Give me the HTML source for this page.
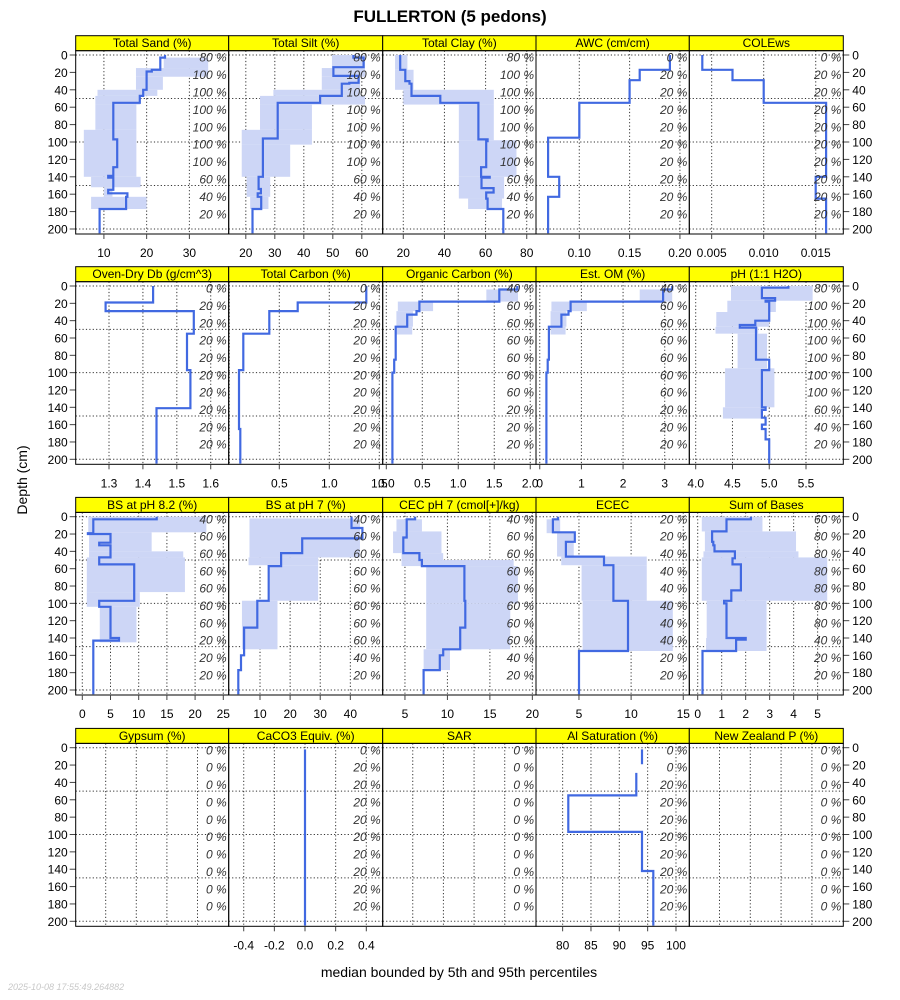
<!DOCTYPE html>
<html><head><meta charset="utf-8"><style>
html,body{margin:0;padding:0;background:#fff;}
svg{display:block;font-family:"Liberation Sans",sans-serif;}
</style></head><body>
<svg id="chart" width="900" height="1000" viewBox="0 0 900 1000" xmlns="http://www.w3.org/2000/svg">
<text x="450" y="22" text-anchor="middle" font-size="17" font-weight="bold">FULLERTON (5 pedons)</text>
<text transform="translate(27,480) rotate(-90)" text-anchor="middle" font-size="14">Depth (cm)</text>
<text x="459" y="977" text-anchor="middle" font-size="14">median bounded by 5th and 95th percentiles</text>
<text x="8" y="990" font-size="9" font-style="italic" fill="#c8c8c8">2025-10-08 17:55:49.264882</text>
<g id="panels"></g>
</svg>
<script>
// ---- layout rows (depth 0 / depth 200 pixel positions) ----
const rowY0 = [55, 286, 516.7, 747.7];
const rowY200 = [229, 459.3, 690, 921.3];
const colX = [75.7, 228.7, 382.7, 536, 689.3, 843.3];
const depthTicks = [0,20,40,60,80,100,120,140,160,180,200];
const depthGrid = [0,50,100,150,200];

// ---- panel titles ----
const titles = ["Total Sand (%)","Total Silt (%)","Total Clay (%)","AWC (cm/cm)","COLEws",
"Oven-Dry Db (g/cm^3)","Total Carbon (%)","Organic Carbon (%)","Est. OM (%)","pH (1:1 H2O)",
"BS at pH 8.2 (%)","BS at pH 7 (%)","CEC pH 7 (cmol[+]/kg)","ECEC","Sum of Bases",
"Gypsum (%)","CaCO3 Equiv. (%)","SAR","Al Saturation (%)","New Zealand P (%)"];

// ---- x domains ----
const domains = [[3.4,39.2],[14.1,67.2],[10,84.5],[0.057,0.2093],[0.00285,0.01765],
[1.2018,1.653],[-0.006,1.534],[-0.05,2.08],[-0.09,3.59],[3.913,6.007],
[-1.17,25.96],[-0.4,50.75],[2.38,20.43],[0.88,15.58],[-0.35,6.07],
[-0.596,0.404],[-0.498,0.507],[-0.596,0.404],[75.3,102.35],[-0.596,0.404]];

// ---- x ticks and labels ----
const ticks = [[10,20,30],[20,30,40,50,60],[20,40,60,80],[0.10,0.15,0.20],[0.005,0.010,0.015],
[1.3,1.4,1.5,1.6],[0,0.5,1.0,1.5],[0,0.5,1.0,1.5,2.0],[0,1,2,3],[4.0,4.5,5.0,5.5],
[0,5,10,15,20,25],[10,20,30,40],[5,10,15,20],[5,10,15],[0,1,2,3,4,5],
[-0.4,-0.2,0,0.2],[-0.4,-0.2,0,0.2,0.4],[-0.4,-0.2,0,0.2],[80,85,90,95,100],[-0.4,-0.2,0,0.2]];
const tickLabels = [["10","20","30"],["20","30","40","50","60"],["20","40","60","80"],["0.10","0.15","0.20"],["0.005","0.010","0.015"],
["1.3","1.4","1.5","1.6"],["","0.5","1.0","1.5"],["0.0","0.5","1.0","1.5","2.0"],["0","1","2","3"],["4.0","4.5","5.0","5.5"],
["0","5","10","15","20","25"],["10","20","30","40"],["5","10","15","20"],["5","10","15"],["0","1","2","3","4","5"],
["","","",""],["-0.4","-0.2","0.0","0.2","0.4"],["","","",""],["80","85","90","95","100"],["","","",""]];

// ---- percent of pedons with data ----
const pctLabels = [
[80,100,100,100,100,100,100,60,40,20],[80,100,100,100,100,100,100,60,40,20],[80,100,100,100,100,100,100,60,40,20],[0,20,20,20,20,20,20,20,20,20],[0,20,20,20,20,20,20,20,20,20],
[0,20,20,20,20,20,20,20,20,20],[0,20,20,20,20,20,20,20,20,20],[40,60,60,60,60,60,60,20,20,20],[40,60,60,60,60,60,60,20,20,20],[80,100,100,100,100,100,100,60,40,20],
[40,60,60,60,60,60,60,20,20,20],[40,60,60,60,60,60,60,60,40,20],[40,60,60,60,60,60,60,60,40,20],[20,20,40,40,40,40,40,40,20,20],[60,80,80,80,80,80,80,40,20,20],
[0,0,0,0,0,0,0,0,0,0],[0,20,20,20,20,20,20,20,20,20],[0,0,0,0,0,0,0,0,0,0],[0,0,20,20,20,20,20,20,20,20],[0,0,0,0,0,0,0,0,0,0]];

// ---- median profiles (depth breaks, values) ----
const medDepth = [
[0,3,17,19,40,47,55,97,129,139,141,155,159,163,177,205],
[0,3,14,24,32,33,47,55,96,140,154,159,163,177,205],
[0,17,30,33,47,55,97,99,129,140,141,153,158,165,177,205],
[0,17,29,55,95,140,163,205],
[0,17,29,55,140,165,205],
[0,19,29,55,97,141,205],
[0,19,29,55,97,165,205],
[0,4,18,29,33,47,85,100,205],
[0,4,18,29,33,47,85,100,205],
[0,2,14,17,18,40,45,48,85,97,140,143,152,160,165,177,205],
[0,3,19,20,30,33,47,55,97,104,140,143,205],
[0,13,25,42,57,97,128,153,160,177,205],
[0,3,24,42,50,57,97,128,153,160,177,205],
[0,3,18,29,46,56,97,155,205],
[0,3,17,29,33,40,48,55,85,97,100,140,142,155,205],
[],
[2,205],
[],
[2,19,29,55,97,142,205],
[]];
const medVal = [
[24.3,23.2,21.2,20,19.2,18.4,12.2,13.1,12.2,11,12.2,11,15.5,15.2,9],
[57.1,60.6,50.2,58.9,55.7,53.1,45.6,31,25.9,24.4,25.2,24.1,25.3,22.3],
[18.5,21,23,24,38,56.5,61,60.3,57.8,62,58,63.9,60.3,61,68.6],
[0.19,0.16,0.15,0.10,0.069,0.080,0.069],
[0.0041,0.007,0.010,0.016,0.015,0.016],
[1.43,1.29,1.55,1.53,1.54,1.44],
[1.37,0.684,0.40,0.14,0.097,0.11],
[1.82,1.57,0.46,0.42,0.29,0.13,0.11,0.085],
[3.18,2.96,0.74,0.69,0.52,0.22,0.19,0.16],
[5.26,4.9,5.08,4.95,5.0,4.81,4.6,4.82,5.0,4.9,4.95,4.9,4.95,4.9,4.95,5.0],
[13.2,1.95,1,5,3,5,3,9.2,3,5,6.5,1.95],
[40.4,44,24,17,12.9,9.1,4.7,4.7,3.7,2.8],
[6.2,5.2,4.8,6.7,7.0,12,12.1,11.5,9.5,9.1,7.2],
[3.0,2.5,4.6,3.75,7.4,8.3,9.7,5.0],
[2.22,1.2,0.6,0.65,0.7,1.55,1.45,1.8,1.4,1.1,1.2,2.0,1.6,0.2],
[],
[0],
[],
[94,null,93,81,94,96],
[]];

// ---- 5th / 95th percentile bands ----
const bandDepth = [
[3,15,25,40,47,57,86,140,152,163,177],
[0,15,25,40,47,57,86,103,140,163,177],
[0,17,40,57,98,140,165,177],
[],[],[],[],
[4,18,29,47,56],
[4,18,29,47,56],
[0,17,30,47,55,95,140,153],
[0,18,40,47,87,104,145],
[2,47,56,97,153],
[3,17,42,50,57,100,153,177],
[3,19,46,56,97,155],
[0,17,40,47,97,140,155],
[],[],[],[],[]];
const bandLo = [
[24,17.5,17.5,8.5,8,8,5.3,7,10,7],
[49.7,46.2,46.2,29.5,24.9,24.9,18.6,18.6,20.3,21.5],
[16,16,20,47,47,47,51.5],
[],[],[],[],
[1.39,0.16,0.14,0.12],
[2.4,0.28,0.26,0.26],
[4.48,4.43,4.28,4.27,4.57,4.40,4.37],
[1.06,1.2,1.2,0.8,0.8,3.1],
[6.5,6.2,13.3,4.0],
[4.0,3.6,4.6,4.6,7.5,7.5,7.2],
[1.9,2.9,3.3,5.25,5.35],
[0.17,0.3,0.24,0.17,0.375,0.35],
[],[],[],[],[]];
const bandHi = [
[34.4,34.4,23.8,22.5,18.5,17.6,17.6,18.6,12,20],
[61.1,61.1,59.4,59.4,61.1,42.8,42.8,35.3,28.4,27.8],
[22,25,64,64,75,69,68],
[],[],[],[],
[1.83,0.65,0.37,0.36],
[3.18,1.13,0.64,0.62],
[5.59,5.09,5.0,4.85,4.97,5.07,4.89],
[22.0,12.3,17.9,18.2,10.2,9.6],
[43.2,29.3,29.3,15.8],
[7.0,9.3,9.5,17.8,18.3,17.4,10.3],
[3.2,4.5,11.5,11.5,14.0],
[2.7,4.1,4.2,5.4,2.87,2.87],
[],[],[],[],[]];

const NS = "http://www.w3.org/2000/svg";
const root = document.getElementById("panels");
function mk(tag, attrs, parent, text){
  const e = document.createElementNS(NS, tag);
  for (const k in attrs) e.setAttribute(k, attrs[k]);
  if (text !== undefined) e.textContent = text;
  (parent || root).appendChild(e);
  return e;
}

for (let r = 0; r < 4; r++){
  const y0 = rowY0[r], y200 = rowY200[r];
  const yScale = d => y0 + (y200 - y0) * d / 200;
  const top = y0 - 4.3, bot = y200 + 5;
  // depth axes
  depthTicks.forEach(d => {
    const y = yScale(d);
    const tl = mk("line",{x1:colX[0]-6,x2:colX[0],y1:y,y2:y,stroke:"#444"});
    
    
    const lt = mk("text",{x:colX[0]-8,y:y+4.5,"text-anchor":"end","font-size":12},null,String(d));
    
    
    const tr = mk("line",{x1:colX[5],x2:colX[5]+6,y1:y,y2:y,stroke:"#444"});
    
    
    const rt = mk("text",{x:colX[5]+9,y:y+4.5,"font-size":12},null,String(d));
    
    
  });
  for (let c = 0; c < 5; c++){
    const p = r*5 + c;
    const xl = colX[c], xr = colX[c+1];
    const dom = domains[p];
    const xs = v => xl + (v - dom[0]) / (dom[1] - dom[0]) * (xr - xl);
    const g = mk("g",{});
    
    
    // strip
    const st = mk("rect",{x:xl,y:top-15,width:xr-xl,height:15,fill:"#ffff00",stroke:"#000","stroke-width":1},g);
    
    
    const stt = mk("text",{x:(xl+xr)/2,y:top-3.5,"text-anchor":"middle","font-size":12},g,titles[p]);
    
    
    const clipId = "clip"+p;
    const cp = mk("clipPath",{id:clipId},g);
    mk("rect",{x:xl,y:top,width:xr-xl,height:bot-top},cp);
    const inner = mk("g",{"clip-path":"url(#"+clipId+")"},g);
    // grid
    ticks[p].forEach(t => {
      const gl = mk("line",{x1:xs(t),x2:xs(t),y1:top,y2:bot,stroke:"#333","stroke-dasharray":"1.2,2.2","stroke-width":1},inner);
      
      
    });
    depthGrid.forEach(d => {
      const gl = mk("line",{x1:xl,x2:xr,y1:yScale(d),y2:yScale(d),stroke:"#333","stroke-dasharray":"1.2,2.2","stroke-width":1},inner);
      
      
    });
    // band
    const bd = bandDepth[p];
    for (let i = 0; i < bandLo[p].length; i++){
      const a = xs(bandLo[p][i]), b = xs(bandHi[p][i]);
      const br = mk("rect",{x:Math.min(a,b),y:yScale(bd[i]),width:Math.abs(b-a),height:yScale(bd[i+1])-yScale(bd[i]),fill:"#cdd6f6"},inner);
      
      
    }
    // median line
    const md = medDepth[p], mv = medVal[p];
    let dstr = "", open = false;
    for (let i = 0; i < mv.length; i++){
      if (mv[i] === null){ open = false; continue; }
      const x = xs(mv[i]);
      if (!open){ dstr += "M"+x.toFixed(1)+" "+yScale(md[i]).toFixed(1); open = true; }
      else dstr += "H"+x.toFixed(1);
      dstr += "V"+yScale(md[i+1]).toFixed(1);
    }
    if (dstr){
      const ml = mk("path",{d:dstr,fill:"none",stroke:"#4169e1","stroke-width":2.2},inner);
      
      
    }
    // percent labels
    pctLabels[p].forEach((v,i) => {
      const t = mk("text",{x:xr-2,y:yScale(20*i+2.5)+4.5,"text-anchor":"end","font-size":12,"font-style":"italic",fill:"#333"},inner,v+" %");
      
      
    });
    // frame
    const fr = mk("rect",{x:xl,y:top,width:xr-xl,height:bot-top,fill:"none",stroke:"#000","stroke-width":1},g);
    
    
    // x ticks
    ticks[p].forEach((t,i) => {
      const lab = tickLabels[p][i];
      if (lab === "") return;
      const tk = mk("line",{x1:xs(t),x2:xs(t),y1:bot,y2:bot+5,stroke:"#444"},g);
      
      
      const tl = mk("text",{x:xs(t),y:bot+23,"text-anchor":"middle","font-size":12},g,lab);
      
      
    });
  }
}
</script>
</body></html>
